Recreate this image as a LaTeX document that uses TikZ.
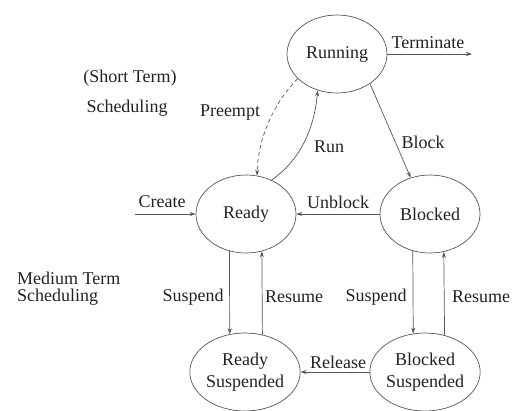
\documentclass[tikz,border=0pt]{standalone}
\usepackage{fontspec}
\setmainfont{Liberation Serif}
\usetikzlibrary{shapes.geometric,arrows.meta}
\definecolor{ink}{HTML}{222222}
\definecolor{edge}{HTML}{555555}
\begin{document}
\begin{tikzpicture}[x=1pt,y=-1pt,
  every node/.style={font=\fontsize{18}{22}\selectfont, text=ink, inner sep=0pt},
  state/.style={ellipse, draw=edge, line width=0.7pt, minimum width=100pt, minimum height=78pt, inner sep=0pt, align=center},
  arr/.style={draw=edge, line width=0.7pt, -{Stealth[length=6pt,width=4pt]}}]
\useasboundingbox (0,0) rectangle (513,410);
\node[state] (running) at (337,54) {Running};
\node[state] (ready) at (246,214) {Ready};
\node[state] (blocked) at (430,214) {Blocked};
\node[state] (rs) at (245,372) {Ready\\Suspended};
\node[state] (bs) at (425,372) {Blocked\\Suspended};
\coordinate (createstart) at (135,214);
\coordinate (termend) at (472,54);
\draw[arr] (createstart) -- (ready.west);
\draw[arr] (running.east) -- (termend);
\draw[arr] (blocked.west) -- (ready.east);
\draw[arr] (bs.west) -- (rs.east);
\draw[arr] (running.-42) -- (blocked.118);
\draw[arr, dashed, dash pattern=on 4pt off 3pt] (running.212) .. controls (272,105) and (258,140) .. (ready.74);
\draw[arr] (ready.53) .. controls (300,160) and (314,130) .. (running.242);
\draw[arr] (ready.246.6) -- (rs.112);
\draw[arr] (rs.65.1) -- (ready.293.4);
\draw[arr] (blocked.245.1) -- (bs.107.6);
\draw[arr] (bs.62.2) -- (blocked.290.5);
\node (lterm) at (428,43) {Terminate};
\node (lpre) at (230,113) {Preempt};
\node (lrun) at (329,147) {Run};
\node (lblock) at (423,142) {Block};
\node (lunblock) at (338,202) {Unblock};
\node (lcreate) at (162,202) {Create};
\node (lsus1) at (193,297) {Suspend};
\node (lres1) at (294,297) {Resume};
\node (lsus2) at (376,297) {Suspend};
\node (lres2) at (481,297) {Resume};
\node (lrel) at (338,362) {Release};
\node (st1) at (130,78) {(Short Term)};
\node (st2) at (127,108) {Scheduling};
\node[anchor=west] (mt1) at (17,278) {Medium Term};
\node[anchor=west] (mt2) at (17,297) {Scheduling};
\end{tikzpicture}
\end{document}
